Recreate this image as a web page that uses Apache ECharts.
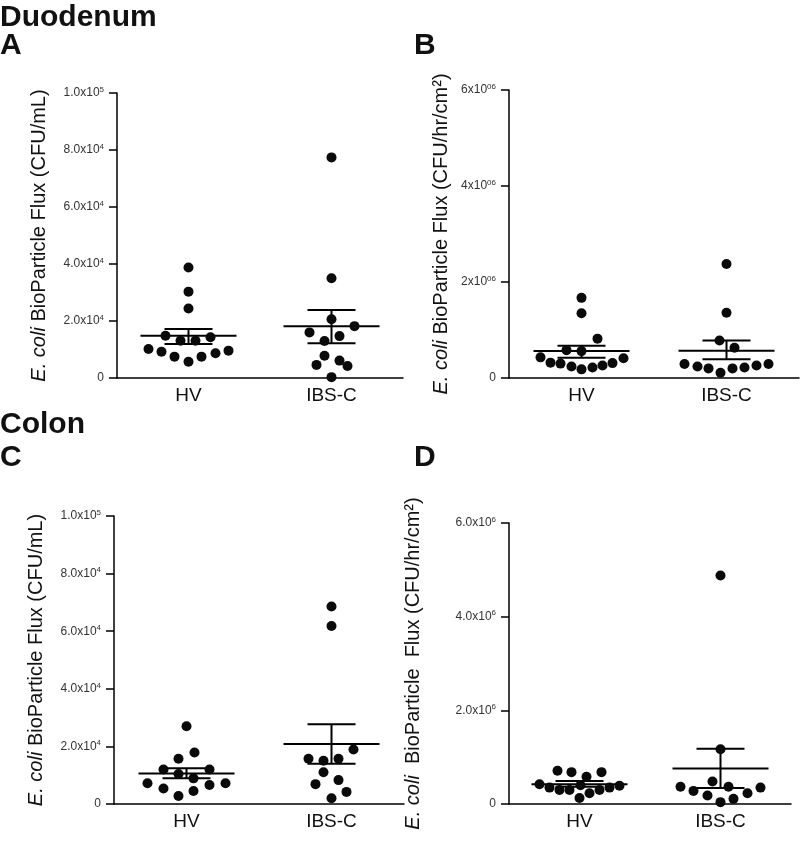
<!DOCTYPE html>
<html>
<head>
<meta charset="utf-8">
<script src="https://cdn.jsdelivr.net/npm/echarts@6/dist/echarts.min.js"></script>
<style>
html,body{margin:0;padding:0;background:#fff;}
#chart{width:800px;height:852px;}
</style>
</head>
<body>
<div id="chart"></div>
<script>
// ---------- DATA ----------
const categories = ['HV', 'IBS-C'];

// Panel A: Duodenum, CFU/mL
const duoCfuHV  = [38800, 30300, 24400, 14800, 13100, 13100, 14300, 10200, 9200, 7500, 5700, 7500, 8700, 9600];
const duoCfuIBS = [77400, 35000, 20600, 18200, 16000, 14700, 13000, 7800, 4600, 6100, 4200, 300];
const duoCfuMean    = [14800, 18200];
const duoCfuSemLow  = [11900, 12200];
const duoCfuSemHigh = [17200, 23900];

// Panel B: Duodenum, CFU/hr/cm2
const duoFluxHV  = [1670000, 1350000, 820000, 580000, 560000, 430000, 320000, 300000, 240000, 180000, 220000, 260000, 310000, 410000];
const duoFluxIBS = [2375000, 1360000, 780000, 630000, 290000, 240000, 200000, 110000, 200000, 220000, 260000, 290000];
const duoFluxMean    = [560000, 570000];
const duoFluxSemLow  = [420000, 390000];
const duoFluxSemHigh = [670000, 780000];

// Panel C: Colon, CFU/mL
const colCfuHV  = [27000, 17900, 15700, 12000, 12000, 10400, 8900, 7200, 7200, 6600, 5400, 4500, 2800];
const colCfuIBS = [68600, 61800, 18900, 15700, 15000, 15700, 11000, 8300, 6900, 4200, 2000];
const colCfuMean    = [10600, 20800];
const colCfuSemLow  = [8900, 14000];
const colCfuSemHigh = [12400, 27700];

// Panel D: Colon, CFU/hr/cm2
const colFluxHV  = [710000, 680000, 680000, 580000, 420000, 350000, 300000, 300000, 400000, 230000, 300000, 350000, 390000, 130000];
const colFluxIBS = [4880000, 1170000, 370000, 280000, 480000, 370000, 180000, 110000, 230000, 350000, 40000];
const colFluxMean    = [420000, 760000];
const colFluxSemLow  = [370000, 340000];
const colFluxSemHigh = [490000, 1180000];

// Tick labels
const tickLabelsCfu     = ['0', '2.0x10^4', '4.0x10^4', '6.0x10^4', '8.0x10^4', '1.0x10^5'];
const tickLabelsDuoFlux = ['0', '2x10^06', '4x10^06', '6x10^06'];
const tickLabelsColFlux = ['0', '2.0x10^6', '4.0x10^6', '6.0x10^6'];

// ---------- LAYOUT (horizontal spread of dots, in px) ----------
const jitDuoCfuHV   = [0, 0, 0, -23, -8, 7, 22, -40, -27, -14, 0, 13, 27, 40];
const jitDuoCfuIBS  = [0, 0, 0, 23, -22, 8, -7, -7, -15, 8, 16, 0];
const jitDuoFluxHV  = [0, 0, 16, -15, 0, -41, -31, -21, -10, 0, 11, 21, 31, 42];
const jitDuoFluxIBS = [0, 0, -7, 8, -42, -29, -18, -6, 6, 18, 30, 42];
const jitColCfuHV   = [0, 8, -8, -23, 23, -8, 7, -39, 39, 23, -23, 7, -8];
const jitColCfuIBS  = [0, 0, 22, -23, -8, 7, -8, 7, -16, 15, 0];
const jitColFluxHV  = [-22, -8, 22, 7, -40, -30, -20, -10, 1, 10, 20, 30, 40, 0];
const jitColFluxIBS = [0, 0, -40, -27, -8, 8, -13, 13, 27, 40, 0];

const FONT = '"Liberation Sans", Arial, Helvetica, sans-serif';

function tickFmt(labels) {
  return function (v, idx) {
    const s = labels[idx];
    if (s === undefined) return '';
    const p = s.split('^');
    if (p.length === 1) return '{b|' + p[0] + '}';
    return '{b|' + p[0] + '}{s|' + p[1] + '}';
  };
}
const tickRich = {
  b: { fontSize: 12, color: '#333', fontFamily: FONT },
  s: { fontSize: 8, color: '#333', fontFamily: FONT, padding: [0, 0, 7, 0] }
};
const nameRich = {
  i: { fontStyle: 'italic', fontSize: 20, color: '#111', fontFamily: FONT }
};

const grids = [
  { left: 117, top: 93,  width: 286, height: 285 },
  { left: 509, top: 90,  width: 290, height: 288 },
  { left: 114, top: 516, width: 290, height: 288 },
  { left: 509, top: 523, width: 282, height: 281 }
];

const yDefs = [
  { max: 100000,  interval: 20000,   labels: tickLabelsCfu,     name: '{i|E. coli} BioParticle Flux (CFU/mL)',          gap: 68 },
  { max: 6000000, interval: 2000000, labels: tickLabelsDuoFlux, name: '{i|E. coli} BioParticle Flux (CFU/hr/cm²)',      gap: 58 },
  { max: 100000,  interval: 20000,   labels: tickLabelsCfu,     name: '{i|E. coli} BioParticle Flux (CFU/mL)',          gap: 68 },
  { max: 6000000, interval: 2000000, labels: tickLabelsColFlux, name: '{i|E. coli}  BioParticle  Flux (CFU/hr/cm²)',    gap: 86 }
];

const panels = [
  { hv: duoCfuHV,  ibs: duoCfuIBS,  jh: jitDuoCfuHV,  ji: jitDuoCfuIBS,  mean: duoCfuMean,  lo: duoCfuSemLow,  hi: duoCfuSemHigh },
  { hv: duoFluxHV, ibs: duoFluxIBS, jh: jitDuoFluxHV, ji: jitDuoFluxIBS, mean: duoFluxMean, lo: duoFluxSemLow, hi: duoFluxSemHigh },
  { hv: colCfuHV,  ibs: colCfuIBS,  jh: jitColCfuHV,  ji: jitColCfuIBS,  mean: colCfuMean,  lo: colCfuSemLow,  hi: colCfuSemHigh },
  { hv: colFluxHV, ibs: colFluxIBS, jh: jitColFluxHV, ji: jitColFluxIBS, mean: colFluxMean, lo: colFluxSemLow, hi: colFluxSemHigh }
];

const axisLineStyle = { color: '#000', width: 1.5 };

const xAxes = grids.map((g, i) => ({
  type: 'category',
  gridIndex: i,
  data: categories,
  boundaryGap: true,
  axisLine: { lineStyle: axisLineStyle },
  axisTick: { alignWithLabel: true, length: 8, lineStyle: axisLineStyle },
  axisLabel: { fontSize: 19, color: '#111', fontFamily: FONT, margin: 8 },
  splitLine: { show: false }
}));

const yAxes = yDefs.map((d, i) => ({
  type: 'value',
  gridIndex: i,
  min: 0,
  max: d.max,
  interval: d.interval,
  axisLine: { show: true, lineStyle: axisLineStyle },
  axisTick: { show: true, length: 8, lineStyle: axisLineStyle },
  axisLabel: { formatter: tickFmt(d.labels), rich: tickRich, margin: 13 },
  splitLine: { show: false },
  name: d.name,
  nameLocation: 'middle',
  nameRotate: 90,
  nameGap: d.gap,
  nameTextStyle: { fontSize: 20, color: '#111', fontFamily: FONT, rich: nameRich }
}));

function errRender(params, api) {
  const m = api.coord([api.value(0), api.value(1)]);
  const lo = api.coord([api.value(0), api.value(2)]);
  const hi = api.coord([api.value(0), api.value(3)]);
  const cx = m[0];
  const st = { stroke: '#000', lineWidth: 2 };
  return {
    type: 'group',
    children: [
      { type: 'line', shape: { x1: cx - 48, y1: m[1], x2: cx + 48, y2: m[1] }, style: st },
      { type: 'line', shape: { x1: cx, y1: hi[1], x2: cx, y2: lo[1] }, style: st },
      { type: 'line', shape: { x1: cx - 24, y1: hi[1], x2: cx + 24, y2: hi[1] }, style: st },
      { type: 'line', shape: { x1: cx - 24, y1: lo[1], x2: cx + 24, y2: lo[1] }, style: st }
    ]
  };
}

const series = [];
panels.forEach((p, i) => {
  const pts = [];
  p.hv.forEach((v, k) => pts.push({ value: [0, v], symbolOffset: [p.jh[k] || 0, 0] }));
  p.ibs.forEach((v, k) => pts.push({ value: [1, v], symbolOffset: [p.ji[k] || 0, 0] }));
  series.push({
    type: 'custom',
    xAxisIndex: i, yAxisIndex: i,
    renderItem: errRender,
    encode: { x: 0, y: [1, 2, 3] },
    data: [0, 1].map(c => [c, p.mean[c], p.lo[c], p.hi[c]]),
    z: 2,
    silent: true
  });
  series.push({
    type: 'scatter',
    xAxisIndex: i, yAxisIndex: i,
    symbol: 'circle',
    symbolSize: 10,
    itemStyle: { color: '#0a0a0a', opacity: 1 },
    data: pts,
    z: 3,
    clip: false,
    silent: true
  });
});

const headFont = 'bold 30px ' + FONT;
const heads = [
  { t: 'Duodenum', x: 0, y: 3 },
  { t: 'A', x: 0, y: 31 },
  { t: 'B', x: 414, y: 31 },
  { t: 'Colon', x: 0, y: 410 },
  { t: 'C', x: 0, y: 443 },
  { t: 'D', x: 414, y: 443 }
];

const chart = echarts.init(document.getElementById('chart'), null, { renderer: 'canvas' });
chart.setOption({
  animation: false,
  backgroundColor: '#fff',
  grid: grids,
  xAxis: xAxes,
  yAxis: yAxes,
  series: series,
  graphic: heads.map(h => ({
    type: 'text',
    left: h.x,
    top: h.y,
    style: { text: h.t, font: headFont, fill: '#111' }
  }))
});
</script>
</body>
</html>
